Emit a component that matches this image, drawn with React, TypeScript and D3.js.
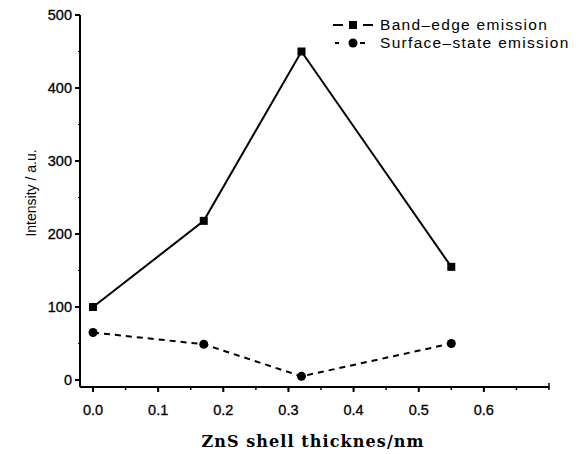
import React from 'react'
import * as d3 from 'd3'

// data
const thickness = [0, 0.17, 0.32, 0.55]
const bandEdge = [100, 218, 450, 155]
const surfaceState = [65, 49, 5, 50]
const xTicks = [0, 0.1, 0.2, 0.3, 0.4, 0.5, 0.6]
const yTicks = [0, 100, 200, 300, 400, 500]

const width = 579
const height = 454
const left = 80
const right = 549
const top = 15
const bottom = 387

const font = '"Liberation Sans", Arial, sans-serif'

const App = () => {
    const x = d3.scaleLinear().domain([-0.02, 0.7]).range([left, right])
    const y = d3.scaleLinear().domain([0, 500]).range([380, top])

    const line = d3
        .line<number>()
        .x((d, i) => x(thickness[i]))
        .y(d => y(d))

    const xMinor = d3.range(0, 0.71, 0.05)
    const yMinor = d3.range(0, 501, 50)

    return (
        <svg width={width} height={height} style={{ position: 'absolute', left: 0, top: 0 }}>
            <rect width={width} height={height} fill='white' />
            {/* axes */}
            <line x1={left} x2={left} y1={top} y2={bottom} stroke='black' strokeWidth={2} />
            <line x1={left} x2={right} y1={bottom} y2={bottom} stroke='black' strokeWidth={2} />
            <line x1={right} x2={right} y1={bottom - 4} y2={bottom} stroke='black' strokeWidth={1.5} />
            {yTicks.map(t => (
                <g key={t}>
                    <line x1={left - 5} x2={left} y1={y(t)} y2={y(t)} stroke='black' strokeWidth={2} />
                    <text x={left - 8} y={y(t)} dy='0.35em' textAnchor='end' fontFamily={font} fontSize={14.5} stroke='black' strokeWidth={0.3}>
                        {t}
                    </text>
                </g>
            ))}
            {yMinor.map(t => (
                <line key={'ym' + t} x1={left - 2} x2={left} y1={y(t)} y2={y(t)} stroke='black' strokeWidth={1} />
            ))}
            {xTicks.map(t => (
                <g key={t}>
                    <line x1={x(t)} x2={x(t)} y1={bottom} y2={bottom + 5} stroke='black' strokeWidth={2} />
                    <text x={x(t)} y={bottom + 28} textAnchor='middle' fontFamily={font} fontSize={14.5} stroke='black' strokeWidth={0.3}>
                        {t.toFixed(1)}
                    </text>
                </g>
            ))}
            {xMinor.map(t => (
                <line key={'xm' + t} x1={x(t)} x2={x(t)} y1={bottom} y2={bottom + 3} stroke='black' strokeWidth={1.5} />
            ))}
            <text
                transform={`translate(36, 193) rotate(-90)`}
                textAnchor='middle'
                fontFamily={font}
                fontSize={14}
            >
                Intensity / a.u.
            </text>
            <text x={313} y={447} textAnchor='middle' fontFamily='"DejaVu Serif", "Liberation Serif", serif' fontSize={16} fontWeight='bold' letterSpacing={1.1}>
                ZnS shell thicknes/nm
            </text>

            {/* series */}
            <path d={line(bandEdge) || ''} fill='none' stroke='black' strokeWidth={2} />
            <path d={line(surfaceState) || ''} fill='none' stroke='black' strokeWidth={2} strokeDasharray='6,5' />
            {bandEdge.map((v, i) => (
                <rect key={'b' + i} x={x(thickness[i]) - 4} y={y(v) - 4} width={8} height={8} fill='black' />
            ))}
            {surfaceState.map((v, i) => (
                <circle key={'s' + i} cx={x(thickness[i])} cy={y(v)} r={4.5} fill='black' />
            ))}

            {/* legend */}
            <g transform='translate(333, 25)'>
                <line x1={0} x2={10} y1={0} y2={0} stroke='black' strokeWidth={2} />
                <line x1={30} x2={40} y1={0} y2={0} stroke='black' strokeWidth={2} />
                <rect x={16} y={-4} width={8} height={8} fill='black' />
                <text x={47} y={0} dy='0.35em' fontFamily={font} fontSize={15.5} letterSpacing={1.3}>Band–edge emission</text>
            </g>
            <g transform='translate(333, 43)'>
                <line x1={2} x2={6} y1={0} y2={0} stroke='black' strokeWidth={2} />
                <line x1={27} x2={32} y1={0} y2={0} stroke='black' strokeWidth={2} />
                <circle cx={20} cy={0} r={4.5} fill='black' />
                <text x={47} y={0} dy='0.35em' fontFamily={font} fontSize={15.5} letterSpacing={1.3}>Surface–state emission</text>
            </g>
        </svg>
    )
}

export default App
